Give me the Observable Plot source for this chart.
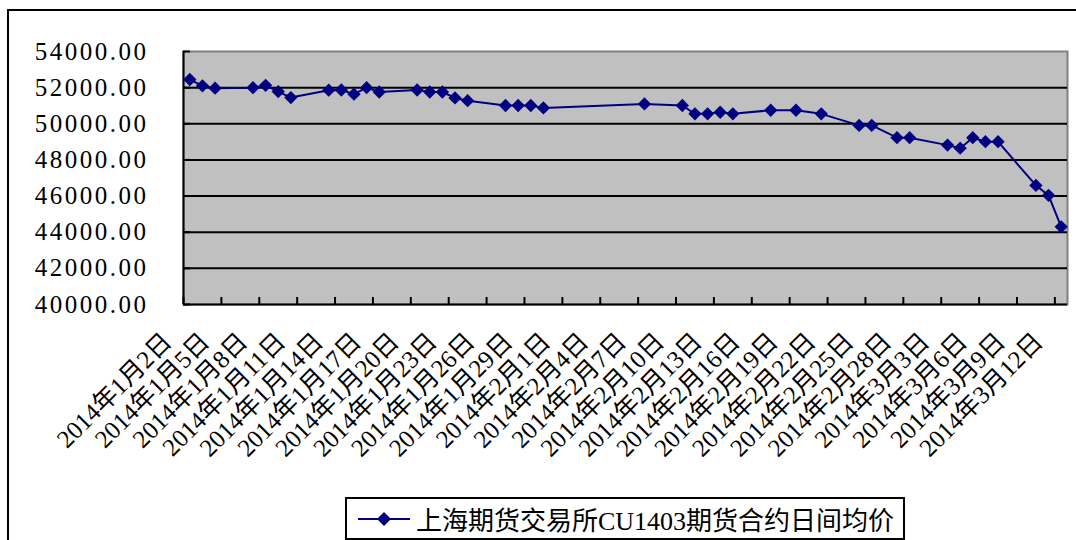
<!DOCTYPE html>
<html><head><meta charset="utf-8">
<script src="https://cdn.jsdelivr.net/npm/d3@7"></script>
<script src="https://cdn.jsdelivr.net/npm/@observablehq/plot@0.6"></script>
<style>
html,body{margin:0;padding:0;background:#fff;}
body{width:1076px;height:540px;overflow:hidden;position:relative;}
#frame{position:absolute;left:7px;top:9px;width:2000px;height:2000px;border:2px solid #000;box-sizing:border-box;pointer-events:none;}
#chart{position:relative;height:497px;}
#chart g[aria-label="y-axis tick label"] text{letter-spacing:2.5px;}
#legend{position:relative;margin-left:345px;width:560px;height:43px;border:2px solid #000;box-sizing:border-box;background:#fff;display:flex;align-items:center;font-family:'Liberation Serif','Noto Sans CJK SC',serif;font-size:26px;color:#000;white-space:nowrap;}
#legend svg{margin-left:11px;margin-right:6px;}
</style></head>
<body>
<div id="chart"></div>
<div id="legend"></div>
<div id="frame"></div>
<script>
const seriesName = "上海期货交易所CU1403期货合约日间均价";
const dates = ["2014-01-02","2014-01-03","2014-01-04","2014-01-07","2014-01-08","2014-01-09","2014-01-10",
  "2014-01-13","2014-01-14","2014-01-15","2014-01-16","2014-01-17",
  "2014-01-20","2014-01-21","2014-01-22","2014-01-23","2014-01-24",
  "2014-01-27","2014-01-28","2014-01-29","2014-01-30",
  "2014-02-07","2014-02-10","2014-02-11","2014-02-12","2014-02-13","2014-02-14",
  "2014-02-17","2014-02-19","2014-02-21","2014-02-24","2014-02-25","2014-02-27","2014-02-28",
  "2014-03-03","2014-03-04","2014-03-05","2014-03-06","2014-03-07",
  "2014-03-10","2014-03-11","2014-03-12"];
const values = [52450,52100,51970,52000,52130,51780,51450,
  51860,51870,51640,52000,51760,
  51870,51760,51760,51430,51280,
  51010,51010,51010,50880,
  51100,51010,50550,50550,50640,50550,
  50750,50750,50550,49910,49910,49230,49230,
  48820,48650,49230,49010,49010,
  46590,46040,44300];
const tickLabels = ["2014年1月2日","2014年1月5日","2014年1月8日","2014年1月11日","2014年1月14日","2014年1月17日",
  "2014年1月20日","2014年1月23日","2014年1月26日","2014年1月29日","2014年2月1日","2014年2月4日",
  "2014年2月7日","2014年2月10日","2014年2月13日","2014年2月16日","2014年2月19日","2014年2月22日",
  "2014年2月25日","2014年2月28日","2014年3月3日","2014年3月6日","2014年3月9日","2014年3月12日"];
const yTicks = [40000,42000,44000,46000,48000,50000,52000,54000];
const xStart = "2014-01-02", xEnd = "2014-03-13";

const parseCN = s => { const m = s.match(/(\d+)年(\d+)月(\d+)日/); return new Date(Date.UTC(+m[1], +m[2]-1, +m[3])); };
const data = dates.map((d,i)=>({date: new Date(Date.parse(d+"T12:00:00Z")), value: values[i]}));
const ticks = tickLabels.map(l=>({date: parseCN(l), label: l}));
const x0 = new Date(Date.parse(xStart+"T00:00:00Z")), x1 = new Date(Date.parse(xEnd+"T00:00:00Z"));

const serif = "'Liberation Serif', 'Noto Sans CJK SC', serif";
const H = 497;
const plot = Plot.plot({
  width: 1076, height: H,
  marginLeft: 183, marginRight: 9, marginTop: 51, marginBottom: H - 304,
  style: {background: "transparent", color: "#000", overflow: "visible"},
  x: {type: "utc", domain: [x0, x1], axis: null},
  y: {domain: [40000, 54000], axis: null},
  marks: [
    Plot.frame({fill: "#c0c0c0", stroke: "#808080", strokeWidth: 2}),
    Plot.ruleY(yTicks.filter(v => v > 40000 && v < 54000), {stroke: "#000", strokeWidth: 2}),
    Plot.axisY({ticks: yTicks, tickSize: -7, tickPadding: 42, strokeWidth: 2, tickFormat: d => d.toFixed(2),
      fontFamily: serif, fontSize: 25, label: null}),
    Plot.axisX({ticks: ticks.map(t => t.date), tickSize: -7, strokeWidth: 2, fill: "none", label: null}),
    Plot.ruleX([x0], {stroke: "#000", strokeWidth: 2}),
    Plot.ruleY([40000], {stroke: "#000", strokeWidth: 2}),
    Plot.text(ticks, {x: "date", text: "label", frameAnchor: "bottom", rotate: -45, textAnchor: "end",
      lineAnchor: "middle", dx: -16, dy: 33, fontSize: 25, fill: "#000", fontFamily: serif}),
    Plot.line(data, {x: "date", y: "value", stroke: "#000080", strokeWidth: 2}),
    Plot.dot(data, {x: "date", y: "value", symbol: "diamond2", r: 6, fill: "#000080", stroke: "none"})
  ]
});
document.getElementById("chart").appendChild(plot);

const lg = document.getElementById("legend");
lg.innerHTML = `<svg width="52" height="20"><line x1="0" y1="10" x2="52" y2="10" stroke="#000080" stroke-width="2"/><path d="M26,3 L33,10 L26,17 L19,10 Z" fill="#000080"/></svg><span></span>`;
lg.querySelector("span").textContent = seriesName;
</script>
</body></html>
